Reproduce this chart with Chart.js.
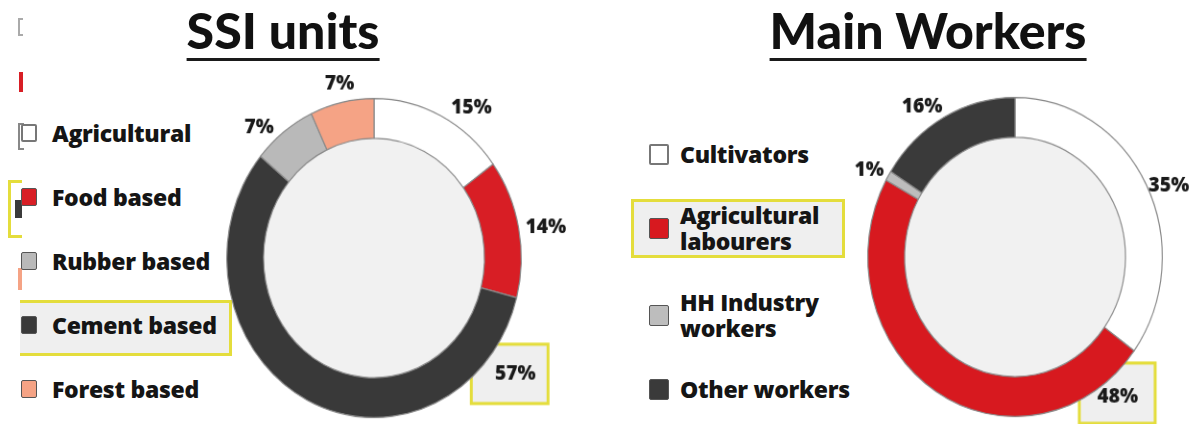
<!DOCTYPE html>
<html>
<head>
<meta charset="utf-8">
<script src="https://cdn.jsdelivr.net/npm/chart.js@4.4.1/dist/chart.umd.min.js"></script>
<style>
  html, body { margin: 0; padding: 0; }
  body { width: 1200px; height: 424px; position: relative; overflow: hidden; background: #fff;
         font-family: Lato, "Open Sans", sans-serif; color: #111; }
  .title { position: absolute; top: 2px; font-weight: 900; font-size: 50px; line-height: 56px;
           border-bottom: 3px solid #1a1a1a; padding-bottom: 0; transform: translateX(-50%); white-space: nowrap; }
  .legend { position: absolute; display: flex; flex-direction: column; }
  .item { position: relative; font-family: "Open Sans", sans-serif; font-weight: 800; font-size: 23px;
          line-height: 26px; white-space: pre; letter-spacing: -0.3px; color: #151515; }
  .sw { position: absolute; top: 50%; border-radius: 2px; box-sizing: border-box; }
  .hl { position: absolute; border: 3px solid #e4dd3c; background: #efefef; box-sizing: border-box; }
  .ring { position: absolute; width: 400px; height: 400px; transform: scale(0.96, 1.04); transform-origin: 50% 50%; }
  .frag { position: absolute; box-sizing: border-box; }
</style>
</head>
<body>
<!-- bits of a neighbouring legend cut off at the left edge -->
<div class="frag" style="left:18px;top:18px;width:5px;height:18px;border:2px solid #aaa;border-right:none;"></div>
<div class="frag" style="left:19px;top:72px;width:4px;height:20px;background:#d81e25;"></div>
<div class="frag" style="left:18px;top:123px;width:6px;height:27px;border:2px solid #888;border-right:none;"></div>
<div class="frag" style="left:8px;top:180px;width:14px;height:58px;border:3px solid #e4dd3c;border-right:none;"></div>
<div class="frag" style="left:15px;top:200px;width:7px;height:18px;background:#3a3a3a;"></div>
<div class="frag" style="left:18px;top:268px;width:4px;height:22px;background:#f5a385;"></div>

<div class="hl" style="left:20px;top:300px;width:212px;height:56px;border-left:none;"></div>
<div class="hl" style="left:631px;top:199px;width:214px;height:59px;"></div>

<div class="title" style="left:283px;">SSI units</div>
<div class="title" style="left:928px;">Main Workers</div>

<div id="ssiLegend" class="legend" style="left:52px;top:120px;gap:38px;"></div>
<div id="workLegend" class="legend" style="left:680px;top:141px;gap:35px;"></div>

<div class="ring" style="left:174px;top:58px;"><canvas id="ssiChart" width="400" height="400"></canvas></div>
<div class="ring" style="left:815px;top:57px;"><canvas id="workChart" width="400" height="400"></canvas></div>

<script>
// SSI units, clockwise from 12 o'clock
const ssiLabels = ['Agricultural', 'Food based', 'Cement based', 'Rubber based', 'Forest based'];
const ssiShares = [15, 14, 57, 7, 7];
const ssiColors = ['#ffffff', '#d81e25', '#393939', '#b9b9b9', '#f5a385'];
const ssiLegendOrder = [0, 1, 3, 2, 4];

// Main workers, clockwise from 12 o'clock
const workLabels = ['Cultivators', 'Agricultural\nlabourers', 'HH Industry\nworkers', 'Other workers'];
const workShares = [35, 48, 1, 16];
const workColors = ['#ffffff', '#d7191f', '#bdbdbd', '#3a3a3a'];
const workLegendOrder = [0, 1, 2, 3];

function buildLegend(el, labels, colors, order, size) {
  order.forEach(i => {
    const item = document.createElement('div');
    item.className = 'item';
    item.textContent = labels[i];
    const sw = document.createElement('div');
    sw.className = 'sw';
    sw.style.width = size[0] + 'px';
    sw.style.height = size[1] + 'px';
    sw.style.left = size[2] + 'px';
    sw.style.marginTop = (-size[1] / 2) + 'px';
    sw.style.background = colors[i];
    sw.style.border = colors[i] === '#ffffff' ? '2px solid #777' : '1.5px solid #555';
    item.appendChild(sw);
    el.appendChild(item);
  });
}
buildLegend(document.getElementById('ssiLegend'), ssiLabels, ssiColors, ssiLegendOrder, [16, 18, -31]);
buildLegend(document.getElementById('workLegend'), workLabels, workColors, workLegendOrder, [20, 21, -31]);

// where along each arc its percentage sits, and how far it is pushed out
function labelPoint(chart, i, opts) {
  const arc = chart.getDatasetMeta(0).data[i];
  const p = arc.getProps(['x', 'y', 'startAngle', 'endAngle', 'outerRadius'], true);
  const a = p.startAngle + opts.along[i] * (p.endAngle - p.startAngle);
  const r = p.outerRadius + opts.gap + opts.push[i];
  return { x: p.x + r * Math.cos(a), y: p.y + r * Math.sin(a) };
}

const ringExtras = {
  id: 'ringExtras',
  beforeDatasetsDraw(chart, args, opts) {
    const ctx = chart.ctx;
    const arc = chart.getDatasetMeta(0).data[0];
    const p = arc.getProps(['x', 'y', 'innerRadius'], true);
    ctx.save();
    ctx.fillStyle = '#f1f1f1';
    ctx.beginPath();
    ctx.arc(p.x, p.y, p.innerRadius, 0, Math.PI * 2);
    ctx.fill();
    // yellow highlight behind the key share
    const h = labelPoint(chart, opts.highlight, opts);
    const b = opts.box;
    ctx.fillStyle = '#efefef';
    ctx.strokeStyle = '#e4dd3c';
    ctx.lineWidth = 3;
    ctx.fillRect(h.x + b[0], h.y + b[1], b[2], b[3]);
    ctx.strokeRect(h.x + b[0], h.y + b[1], b[2], b[3]);
    ctx.restore();
  },
  afterDatasetsDraw(chart, args, opts) {
    const ctx = chart.ctx;
    const values = chart.data.datasets[0].data;
    ctx.save();
    ctx.font = '800 20px "Open Sans"';
    ctx.fillStyle = '#1a1a1a';
    ctx.textAlign = 'center';
    ctx.textBaseline = 'middle';
    values.forEach((v, i) => {
      const p = labelPoint(chart, i, opts);
      ctx.fillText(v + '%', p.x, p.y);
    });
    ctx.restore();
  }
};

function makeRing(id, labels, shares, colors, extras) {
  return new Chart(document.getElementById(id), {
    type: 'doughnut',
    data: {
      labels: labels,
      datasets: [{
        data: shares,
        backgroundColor: colors,
        borderColor: '#8a8a8a',
        borderWidth: 1.2
      }]
    },
    options: {
      responsive: false,
      animation: false,
      cutout: '75%',
      layout: { padding: 46 },
      plugins: {
        legend: { display: false },
        tooltip: { enabled: false },
        ringExtras: extras
      }
    },
    plugins: [ringExtras]
  });
}

makeRing('ssiChart', ssiLabels, ssiShares, ssiColors, {
  gap: 22, highlight: 2, box: [-46, -28, 80, 57],
  along: [0.65, 0.53, 0.11, 0.27, 0.52],
  push: [1, 6, 9, -2, -4]
});
makeRing('workChart', workLabels, workShares, workColors, {
  gap: 22, highlight: 1, box: [-40, -32, 79, 58],
  along: [0.53, 0.089, 0.0, 0.415],
  push: [-1, -4, -2, -1]
});
</script>
</body>
</html>
